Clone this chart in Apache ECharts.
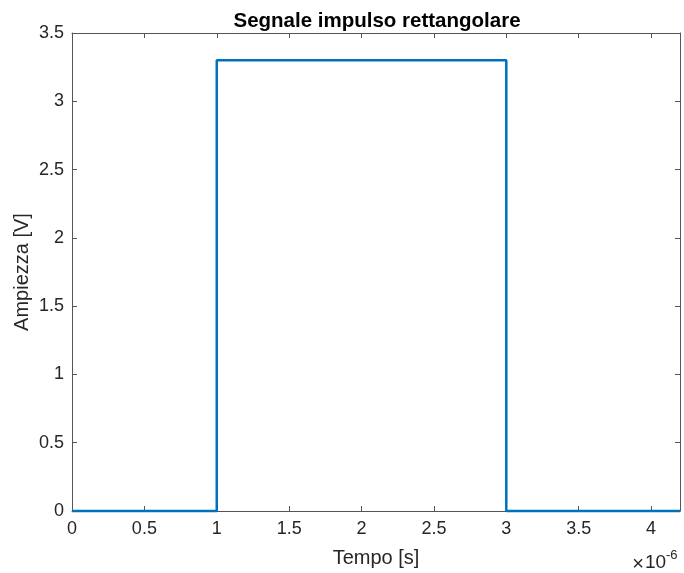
<!DOCTYPE html>
<html>
<head>
<meta charset="utf-8">
<script src="https://cdn.jsdelivr.net/npm/echarts@6/dist/echarts.min.js"></script>
<style>
  html, body { margin: 0; padding: 0; background: #fff; overflow: hidden; }
  #chart { width: 684px; height: 573px; }
</style>
</head>
<body>
<div id="chart"></div>
<script>
// impulso rettangolare: tempo [s] e ampiezza [V]
var tempo = [0, 1e-6, 1e-6, 3e-6, 3e-6, 4.2e-6];
var ampiezza = [0, 0, 3.3, 3.3, 0, 0];
var xMax = 4.2e-6;
var xStep = 0.5e-6;
var yMax = 3.5;
var yStep = 0.5;

var font = "'Liberation Sans', Arial, Helvetica, sans-serif";
var ink = '#262626';
var edge = '#555555';

var chart = echarts.init(document.getElementById('chart'), null, { width: 684, height: 573 });

var punti = tempo.map(function (t, i) { return [t, ampiezza[i]]; });

function fmtX(v) {
    return String(Math.round(v * 1e7) / 10);
}

var boxAxisX = {
    type: 'value', min: 0, max: xMax, interval: xStep,
    axisLine: { show: true, onZero: false, lineStyle: { color: edge, width: 1 } },
    axisTick: { show: true, inside: true, length: 5, lineStyle: { color: edge } },
    splitLine: { show: false }
};
var boxAxisY = {
    type: 'value', min: 0, max: yMax, interval: yStep,
    axisLine: { show: true, onZero: false, lineStyle: { color: edge, width: 1 } },
    axisTick: { show: true, inside: true, length: 5, lineStyle: { color: edge } },
    splitLine: { show: false }
};

var option = {
    animation: false,
    backgroundColor: '#ffffff',
    title: {
        text: 'Segnale impulso rettangolare',
        left: 372, top: 6,
        textAlign: 'center',
        textStyle: { fontFamily: font, fontSize: 20.5, fontWeight: 'bold', color: '#000' }
    },
    grid: { left: 72, right: 4, top: 33, bottom: 61 },
    xAxis: [
        Object.assign({}, boxAxisX, {
            position: 'bottom',
            name: 'Tempo [s]',
            nameLocation: 'middle',
            nameGap: 37,
            nameMoveOverlap: false,
            nameTextStyle: { fontFamily: font, fontSize: 20, color: ink },
            axisLabel: { show: true, margin: 9, fontFamily: font, fontSize: 18, color: ink, formatter: fmtX, showMaxLabel: false }
        }),
        Object.assign({}, boxAxisX, {
            position: 'top',
            axisLabel: { show: false }
        })
    ],
    yAxis: [
        Object.assign({}, boxAxisY, {
            position: 'left',
            name: 'Ampiezza [V]',
            nameLocation: 'middle',
            nameGap: 40,
            nameMoveOverlap: false,
            nameTextStyle: { fontFamily: font, fontSize: 20, color: ink },
            axisLabel: { show: true, margin: 8, fontFamily: font, fontSize: 18, color: ink }
        }),
        Object.assign({}, boxAxisY, {
            position: 'right',
            axisLabel: { show: false }
        })
    ],
    // moltiplicatore dell'asse x
    graphic: [
        {
            type: 'text', x: 644, y: 564,
            style: { text: '\u00d7', fontFamily: font, fontSize: 20, fill: ink, align: 'right', verticalAlign: 'middle' }
        },
        {
            type: 'text', x: 645, y: 563,
            style: { text: '10', fontFamily: font, fontSize: 19, fill: ink, align: 'left', verticalAlign: 'middle' }
        },
        {
            type: 'text', x: 666, y: 555.5,
            style: { text: '-6', fontFamily: font, fontSize: 13, fill: ink, align: 'left', verticalAlign: 'middle' }
        }
    ],
    series: [{
        type: 'line',
        data: punti,
        xAxisIndex: 0,
        yAxisIndex: 0,
        showSymbol: false,
        clip: false,
        lineStyle: { color: '#0072BD', width: 2.5 },
        z: 1
    }]
};

chart.setOption(option);
</script>
</body>
</html>
